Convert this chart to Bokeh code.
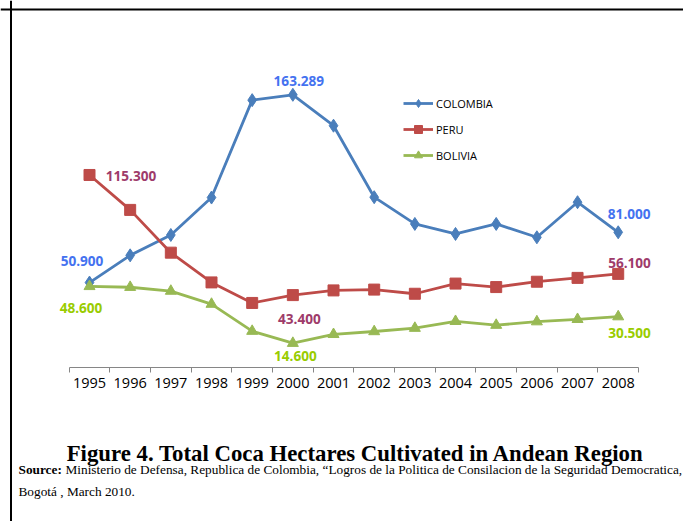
from bokeh.plotting import figure
from bokeh.models import (Range1d, LinearAxis, FixedTicker, Legend, LegendItem,
                          Label, Span, ColumnDataSource)
from bokeh.core.properties import value
from bokeh.embed import file_html
from bokeh.resources import INLINE

# ---------------- data ----------------
years = [1995, 1996, 1997, 1998, 1999, 2000, 2001, 2002, 2003, 2004, 2005, 2006, 2007, 2008]
colombia = [50900, 67200, 79400, 101800, 160100, 163289, 144800, 102000, 86000, 80000, 86000, 78000, 99000, 81000]
peru = [115300, 94400, 68800, 51000, 38700, 43400, 46200, 46700, 44200, 50300, 48200, 51400, 53700, 56100]
bolivia = [48600, 48100, 45800, 38000, 21800, 14600, 19900, 21600, 23600, 27700, 25400, 27500, 28900, 30500]
series_names = ["COLOMBIA", "PERU", "BOLIVIA"]
labeled_years = [1995, 2000, 2008]
title_text = "Figure 4. Total Coca Hectares Cultivated in Andean Region"
source_bold = "Source:"
source_line1 = "Ministerio de Defensa, Republica de Colombia, \u201cLogros de la Politica de Consilacion de la Seguridad Democratica,"
source_line2 = "Bogot\u00e1 , March 2010."

# ---------------- layout / style ----------------
W, H = 683, 521
PX_PER_YEAR = 40.67
X0_PX = 89.0
PX_PER_UNIT = 1.6706 / 1000.0
Y0_PX = 367.1

line_colors = ["#4A7EBB", "#BE4B48", "#98B954"]
label_colors = ["#4472F0", "#9E3B6A", "#99CC00"]
markers = ["diamond", "square", "triangle"]
marker_sizes = [13, 11, 11]
label_offsets = [
    [(-7.5, -22), (6, -14), (11, -18.7)],
    [(41.5, 1), (6.5, 24), (11.3, -10.4)],
    [(-8.5, 21.3), (2.5, 12.3), (11.3, 16)],
]

x_range = Range1d(years[0] - X0_PX / PX_PER_YEAR, years[0] + (W - X0_PX) / PX_PER_YEAR)
y_range = Range1d(-(H - Y0_PX) / PX_PER_UNIT, Y0_PX / PX_PER_UNIT)

p = figure(width=W, height=H, x_range=x_range, y_range=y_range,
           x_axis_type=None, y_axis_type=None, toolbar_location=None,
           output_backend="svg", min_border=0, outline_line_color=None,
           background_fill_color="white", border_fill_color="white")

# frame lines (top and left)
p.add_layout(Span(location=y_range.end - 9.0 / PX_PER_UNIT, dimension="width",
                  line_color="black", line_width=2))
p.add_layout(Span(location=x_range.start + 10.5 / PX_PER_YEAR, dimension="height",
                  line_color="black", line_width=2))

# category axis: labels at years, ticks between categories
bounds = [y - 0.5 for y in years] + [years[-1] + 0.5]
xaxis = LinearAxis(ticker=FixedTicker(ticks=years, minor_ticks=bounds),
                   bounds=(bounds[0], bounds[-1]), fixed_location=0,
                   axis_line_color="#868686", axis_line_width=1,
                   major_tick_line_color=None, major_tick_out=0, major_tick_in=0,
                   minor_tick_line_color="#868686", minor_tick_out=5, minor_tick_in=0,
                   major_label_text_font="Open Sans", major_label_text_font_size="14.5px",
                   major_label_text_color="black", major_label_standoff=5)
p.add_layout(xaxis, "below")

items = []
all_series = [colombia, peru, bolivia]
for i, vals in enumerate(all_series):
    rl = p.line(years, vals, line_color=line_colors[i], line_width=2.8)
    rs = p.scatter(years, vals, marker=markers[i], size=marker_sizes[i],
                   fill_color=line_colors[i], line_color=line_colors[i])
    items.append(LegendItem(label=series_names[i], renderers=[rl, rs]))
    lx = [y for y in labeled_years]
    ly = [vals[years.index(y)] for y in labeled_years]
    txt = [f"{v:,}".replace(",", ".") for v in ly]
    src = ColumnDataSource(dict(x=lx, y=ly, t=txt,
                                dx=[o[0] for o in label_offsets[i]],
                                dy=[o[1] for o in label_offsets[i]]))
    p.text(x="x", y="y", text="t", x_offset="dx", y_offset="dy", source=src,
           text_align="center", text_baseline="middle",
           text_font=value("Open Sans"), text_font_style="bold",
           text_font_size="13.6px", text_color=label_colors[i])

legend = Legend(items=items, location=(403, 356), orientation="vertical",
                border_line_color=None, background_fill_alpha=0,
                padding=0, margin=0, spacing=6, glyph_width=30, glyph_height=20,
                label_standoff=3, label_text_font="Open Sans",
                label_text_font_size="11px", label_text_color="black")
p.add_layout(legend)

p.add_layout(Label(x=355, y=68, x_units="screen", y_units="screen", text=title_text,
                   text_align="center", text_baseline="alphabetic",
                   text_font="Liberation Serif", text_font_style="bold",
                   text_font_size="22.8px", text_color="black"))
p.add_layout(Label(x=18, y=52, x_units="screen", y_units="screen", text=source_bold,
                   text_align="left", text_baseline="alphabetic",
                   text_font="Liberation Serif", text_font_style="bold",
                   text_font_size="13.3px", text_color="black"))
p.add_layout(Label(x=65, y=52, x_units="screen", y_units="screen", text=source_line1,
                   text_align="left", text_baseline="alphabetic",
                   text_font="Liberation Serif",
                   text_font_size="13.3px", text_color="black"))
p.add_layout(Label(x=18, y=30, x_units="screen", y_units="screen", text=source_line2,
                   text_align="left", text_baseline="alphabetic",
                   text_font="Liberation Serif",
                   text_font_size="13.3px", text_color="black"))

open("out.html", "w").write(file_html(p, INLINE))
